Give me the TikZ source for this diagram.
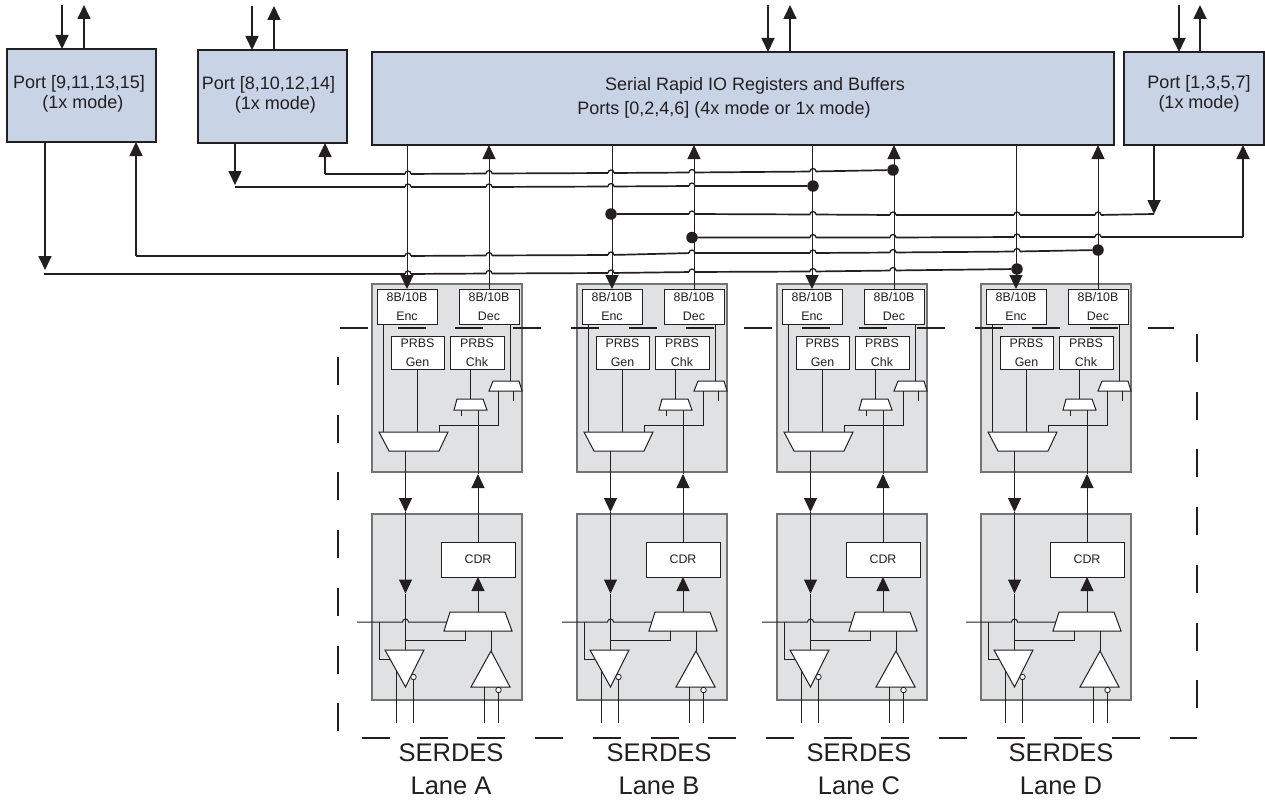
\documentclass[tikz,border=0pt]{standalone}
\usepackage{fontspec}
\setmainfont{Liberation Sans}
\usetikzlibrary{arrows.meta}
\definecolor{ink}{HTML}{231F20}
\definecolor{portblue}{HTML}{C9D3E6}
\definecolor{lanegray}{HTML}{DFE1E3}
\tikzset{
	>={Triangle[length=14pt,width=13pt]},
	port/.style={draw=ink,fill=portblue,line width=2.2pt,inner sep=0pt,outer sep=0pt,anchor=north west},
	portlabel/.style={text=ink,align=center,inner sep=0pt,font=\fontsize{18}{20}\selectfont},
	bus/.style={draw=ink,line width=1.7pt},
	sig/.style={draw=ink,line width=1pt},
	lanebox/.style={draw=black!55,fill=lanegray,line width=1.2pt,inner sep=0pt,outer sep=0pt,anchor=north west},
	cell/.style={draw=ink,fill=white,line width=1pt,inner sep=0pt,outer sep=0pt,text=ink,align=center,font=\fontsize{12.4}{19}\selectfont},
	gate/.style={draw=ink,fill=white,line width=1pt},
	bubble/.style={circle,draw=ink,fill=white,line width=0.8pt,minimum size=5.5pt,inner sep=0pt,outer sep=0pt},
	tap/.style={circle,fill=ink,minimum size=11.5pt,inner sep=0pt,outer sep=0pt},
	dashline/.style={draw=ink,line width=1.8pt,dash pattern=on 28pt off 29.7pt},
	lanename/.style={text=ink,align=center,inner sep=0pt,font=\fontsize{25.5}{33}\selectfont}
}
\newcommand{\hops}[1]{\foreach \hx/\hy in {#1} {
	\fill[white] (\hx-3.2,\hy-2) rectangle (\hx+3.2,\hy+2);
	\draw[draw=ink,line width=1.3pt] (\hx-3,\hy) arc (180:360:3);}}
\begin{document}
\begin{tikzpicture}[x=1pt,y=-1pt]
	\useasboundingbox (0,0) rectangle (1265,800);
	\node[port,minimum width=149pt,minimum height=93pt] (p1) at (7,49) {};
	\node[port,minimum width=149pt,minimum height=93pt] (p2) at (198,50) {};
	\node[port,minimum width=742pt,minimum height=93pt] (mainbuf) at (372,52) {};
	\node[port,minimum width=140pt,minimum height=93pt] (p4) at (1124,52) {};
	\node[portlabel] (p1text) at (79,94) {Port [9,11,13,15]\\\hspace*{8pt}(1x mode)};
	\node[portlabel] (p2text) at (268.5,95) {Port [8,10,12,14]\\\hspace*{14pt}(1x mode)};
	\node[portlabel] (maintext) at (724,98) {\hspace*{62pt}Serial Rapid IO Registers and Buffers\\[4pt]Ports [0,2,4,6] (4x mode or 1x mode)};
	\node[portlabel] (p4text) at (1199,93.5) {Port [1,3,5,7]\\(1x mode)};
	\foreach \portname/\inx/\outx/\topy in {p1/62/84/5,p2/252/274/6,mainbuf/768/790/5,p4/1179/1200/5} {
		\coordinate (\portname in) at (\inx,\topy);
		\coordinate (\portname out) at (\outx,\topy);
		\draw[bus,->] (\portname in) -- (\portname in |- \portname.north);
		\draw[bus,->] (\portname out |- \portname.north) -- (\portname out);
	}
	\foreach \lane/\dx/\namex in {A/0/451,B/205/659,C/405/859,D/609/1061} {
		\begin{scope}[shift={(\dx,0)}]
			\node[lanebox,minimum width=150pt,minimum height=188pt] (pcs\lane) at (372,284) {};
			\node[lanebox,minimum width=150pt,minimum height=186pt] (pma\lane) at (372,514) {};
			\node[cell,minimum width=60pt,minimum height=35pt] (enc\lane) at (407,306.5) {8B/10B\\Enc};
			\node[cell,minimum width=60pt,minimum height=35pt] (dec\lane) at (489,306.5) {8B/10B\\Dec};
			\node[cell,minimum width=53pt,minimum height=33pt] (gen\lane) at (417.5,352.5) {PRBS\\Gen};
			\node[cell,minimum width=54pt,minimum height=33pt] (chk\lane) at (477,352.5) {PRBS\\Chk};
			\node[cell,minimum width=74pt,minimum height=35pt] (cdr\lane) at (478,559.5) {CDR};
			\coordinate (txmuxtop\lane) at (413.5,432);
			\coordinate (txmuxbot\lane) at (413.5,451);
			\coordinate (chkmuxtop\lane) at (470,399);
			\coordinate (chkmuxbot\lane) at (470,410);
			\coordinate (decmuxtop\lane) at (506,381);
			\coordinate (decmuxbot\lane) at (506,391);
			\coordinate (rxmuxtop\lane) at (478,612);
			\coordinate (rxmuxbot\lane) at (478,631);
			\coordinate (txbuftop\lane) at (405.5,650);
			\coordinate (rxbuftip\lane) at (491,651);
			\coordinate (pcsout\lane) at (405.5,512);
			\coordinate (txarrow\lane) at (405.5,593.5);
			\coordinate (pcsin\lane) at (478,474);
			\coordinate (wirein\lane) at (357,622);
			\coordinate (wiresplit\lane) at (379,622);
			\coordinate (loop\lane) at (405.5,640);
			\coordinate (pinfloor\lane) at (396,723);
			\draw[sig] (383,324) -- (383,432);
			\draw[sig] (gen\lane.south) -- (gen\lane.south |- txmuxtop\lane);
			\draw[sig] (470,369) -- (chkmuxtop\lane);
			\draw[sig] (510,324) -- (510,381);
			\draw[sig] (chkmuxbot\lane) ++(-9,0) -- ++(0,6);
			\draw[sig] (decmuxbot\lane) ++(7,0) -- ++(0,10);
			\draw[sig] (439,432) -- (439,425) -| (498,391);
			\draw[sig,->] (cdr\lane.north) -- (pcsin\lane);
			\draw[sig] (pcsin\lane) -- (pcsin\lane |- chkmuxbot\lane);
			\draw[sig,->] (rxmuxtop\lane) -- (cdr\lane.south);
			\draw[sig] (rxbuftip\lane) -- (rxbuftip\lane |- rxmuxbot\lane);
			\draw[sig,->] (pcsout\lane |- txmuxbot\lane) -- (pcsout\lane);
			\draw[sig,->] (pcsout\lane) -- (txarrow\lane);
			\draw[sig] (txarrow\lane) -- (txbuftop\lane);
			\draw[sig] (loop\lane) -| (465,631);
			\draw[sig] (wirein\lane) -- (402.5,622) arc (180:360:3) -- (447,622);
			\draw[sig] (wiresplit\lane) |- (390,659);
			\draw[gate] (379,432) -- (448,432) -- (439,451) -- (389,451) -- cycle;
			\draw[gate] (457,399) -- (483,399) -- (487,410) -- (454,410) -- cycle;
			\draw[gate] (493,381) -- (519,381) -- (522,391) -- (489,391) -- cycle;
			\draw[gate] (450,612) -- (505,612) -- (512,631) -- (444,631) -- cycle;
			\draw[gate] (385,650) -- (424,650) -- (405.5,687) -- cycle;
			\draw[gate] (rxbuftip\lane) -- (510,687) -- (471,687) -- cycle;
			\node[bubble] (txinv\lane) at (413.5,677) {};
			\node[bubble] (rxinv\lane) at (498.5,690) {};
			\draw[sig] (396,670) -- (pinfloor\lane);
			\draw[sig] (txinv\lane.south) -- (txinv\lane.south |- pinfloor\lane);
			\draw[sig] (484,687) -- (484,723);
			\draw[sig] (rxinv\lane.south) -- (rxinv\lane.south |- pinfloor\lane);
		\end{scope}
		\node[lanename] (name\lane) at (\namex,769.5) {SERDES\\Lane \lane};
	}
	\node[tap] (tap1) at (893,170) {};
	\node[tap] (tap2) at (813,186) {};
	\node[tap] (tap3) at (611,214) {};
	\node[tap] (tap4) at (692,237.5) {};
	\node[tap] (tap5) at (1098,250) {};
	\node[tap] (tap6) at (1017,269) {};
	\coordinate (p1dn) at (45,270);
	\coordinate (p1up) at (136,256);
	\coordinate (p2dn) at (235,185);
	\coordinate (p2up) at (325,174);
	\coordinate (p4dn) at (1154,214);
	\coordinate (p4up) at (1243,237);
	\coordinate (p1bus) at (44,274);
	\coordinate (p2bus) at (235,187);
	\draw[bus,->] (p1dn |- p1.south) -- (p1dn);
	\draw[bus,->] (p2dn |- p2.south) -- (p2dn);
	\draw[bus,->] (p4dn |- p4.south) -- (p4dn);
	\draw[bus,->] (p2up) -- (p2up |- p2.south);
	\draw[bus,->] (p1up) -- (p1up |- p1.south);
	\draw[bus,->] (p4up) -- (p4up |- p4.south);
	\draw[bus] (p2up) -- (408,174) -- (489,173.5) -- (611,173) -- (692,172.5) -- (813,171.5) -- (tap1);
	\draw[bus] (p2bus) -- (408,187) -- (489,187) -- (611,186.5) -- (692,186) -- (tap2);
	\draw[bus] (tap3) -- (692,214) -- (813,214.5) -- (893,215) -- (1017,215) -- (1098,215) -- (p4dn);
	\draw[bus] (tap4) -- (813,237.5) -- (893,237.5) -- (1017,237) -- (1098,237) -- (p4up);
	\draw[bus] (p1up) -- (408,256) -- (489,255.5) -- (611,255) -- (692,253) -- (813,253) -- (893,252.5) -- (1017,251.5) -- (tap5);
	\draw[bus] (p1bus) -- (408,274) -- (489,273.5) -- (611,273) -- (692,272) -- (813,271.5) -- (893,270.5) -- (tap6);
	\hops{408/174,489/173.5,611/173,692/172.5,813/171.5}
	\hops{408/187,489/187,611/186.5,692/186}
	\hops{692/214,813/214.5,893/215,1017/215,1098/215}
	\hops{813/237.5,893/237.5,1017/237,1098/237}
	\hops{408/256,489/255.5,611/255,692/253,813/253,893/252.5,1017/251.5}
	\hops{408/274,489/273.5,611/273,692/272,813/271.5,893/270.5}
	\foreach \lane in {A,B,C,D} {
		\draw[sig,->] (enc\lane.north |- mainbuf.south) -- (enc\lane.north);
		\draw[sig,->] (dec\lane.north) -- (dec\lane.north |- mainbuf.south);
	}
	\draw[dashline] (340,328) -- (1174,328);
	\draw[dashline] (1197,334) -- (1197,708);
	\draw[dashline] (362,738) -- (1197,738);
	\draw[dashline] (338,357) -- (338,732);
\end{tikzpicture}
\end{document}
